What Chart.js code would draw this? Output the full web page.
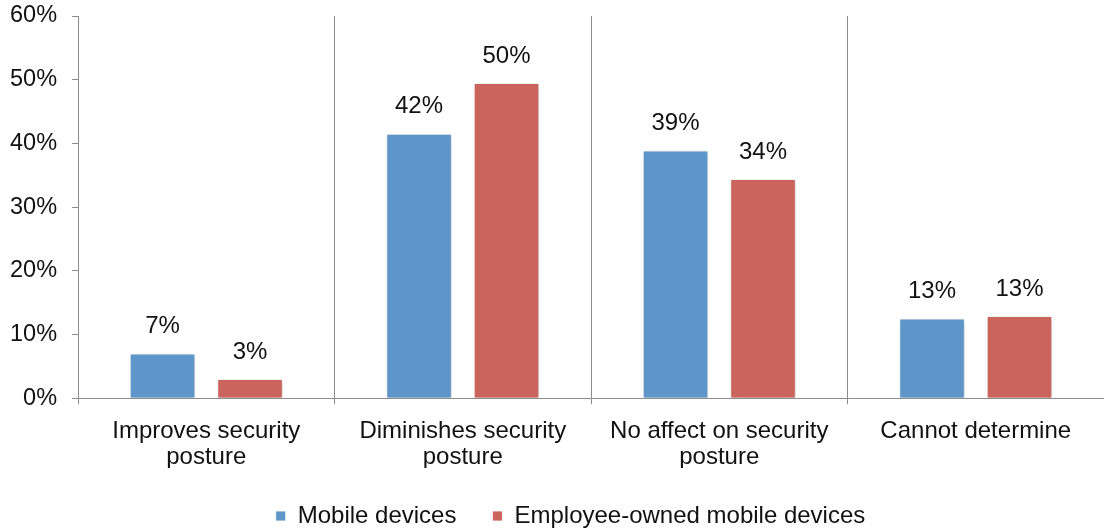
<!DOCTYPE html>
<html>
<head>
<meta charset="utf-8">
<script src="https://cdn.jsdelivr.net/npm/chart.js@4"></script>
<style>
    html, body { margin: 0; padding: 0; background: #fff; }
    #wrap { width: 1104px; height: 529px; }
</style>
</head>
<body>
<div id="wrap"><canvas id="chart" width="1104" height="529"></canvas></div>
<script>
// Data
const categories = [
    ['Improves security', 'posture'],
    ['Diminishes security', 'posture'],
    ['No affect on security', 'posture'],
    ['Cannot determine']
];
const seriesNames = ['Mobile devices', 'Employee-owned mobile devices'];
const mobileValues = [7, 41.5, 38.9, 12.5];
const employeeValues = [3, 49.5, 34.4, 12.9];
const yTicks = [0, 10, 20, 30, 40, 50, 60];

const BLUE = '#5f96ca';
const RED = '#cc645e';
const AXIS = '#8c8c8c';
const FONT = "'Liberation Sans', Arial, sans-serif";
const FONT_SIZE = 24;

// draws the value above each bar, from the bar element the library placed
const valueLabels = {
    id: 'valueLabels',
    afterDatasetsDraw(chart) {
        const ctx = chart.ctx;
        ctx.save();
        ctx.font = FONT_SIZE + 'px ' + FONT;
        ctx.fillStyle = '#111';
        ctx.textAlign = 'center';
        ctx.textBaseline = 'middle';
        chart.data.datasets.forEach((ds, i) => {
            chart.getDatasetMeta(i).data.forEach((bar, j) => {
                ctx.fillText(Math.round(ds.data[j]) + '%', bar.x, bar.y - 27);
            });
        });
        ctx.restore();
    }
};

// soft shadow under the bars
const barShadow = {
    id: 'barShadow',
    beforeDatasetsDraw(chart) {
        chart.ctx.save();
        chart.ctx.shadowColor = 'rgba(0,0,0,0.22)';
        chart.ctx.shadowBlur = 4;
        chart.ctx.shadowOffsetX = 1;
        chart.ctx.shadowOffsetY = 1;
    },
    afterDatasetsDraw(chart) {
        chart.ctx.restore();
    }
};

// the legend sits a little right of the canvas centre in the original
const legendShift = {
    id: 'legendShift',
    afterLayout(chart) {
        if (!chart.legend) return;
        chart.legend.left += 21;
        chart.legend.right += 21;
    }
};

new Chart(document.getElementById('chart').getContext('2d'), {
    type: 'bar',
    data: {
        labels: categories,
        datasets: [
            { label: seriesNames[0], data: mobileValues, backgroundColor: BLUE, borderColor: 'rgba(255,255,255,0.8)', borderWidth: 1 },
            { label: seriesNames[1], data: employeeValues, backgroundColor: RED, borderColor: 'rgba(255,255,255,0.8)', borderWidth: 1 }
        ]
    },
    options: {
        responsive: false,
        animation: false,
        devicePixelRatio: 1,
        categoryPercentage: 0.682,
        barPercentage: 0.75,
        layout: { padding: { left: -5, right: 0, top: 16, bottom: -9 } },
        scales: {
            x: {
                offset: true,
                afterFit(axis) { axis.height -= 17; },
                grid: { offset: true, color: AXIS, lineWidth: 1, tickLength: 6, drawOnChartArea: true },
                border: { color: AXIS, width: 1 },
                ticks: { color: '#111', font: { family: FONT, size: FONT_SIZE, lineHeight: 1.1 }, padding: 14, maxRotation: 0 }
            },
            y: {
                min: 0,
                max: 60,
                afterBuildTicks(axis) { axis.ticks = yTicks.map(v => ({ value: v })); },
                afterFit(axis) { axis.paddingTop = 0; },
                grid: { drawOnChartArea: false, color: AXIS, tickLength: 6 },
                border: { color: AXIS, width: 1 },
                ticks: { color: '#111', font: { family: FONT, size: 23.5 }, padding: 15, callback: v => v + '%' }
            }
        },
        plugins: {
            legend: {
                position: 'bottom',
                labels: { color: '#111', font: { family: FONT, size: FONT_SIZE }, boxWidth: 10, boxHeight: 10, padding: 36 }
            },
            tooltip: { enabled: false }
        }
    },
    plugins: [barShadow, valueLabels, legendShift]
});
</script>
</body>
</html>
